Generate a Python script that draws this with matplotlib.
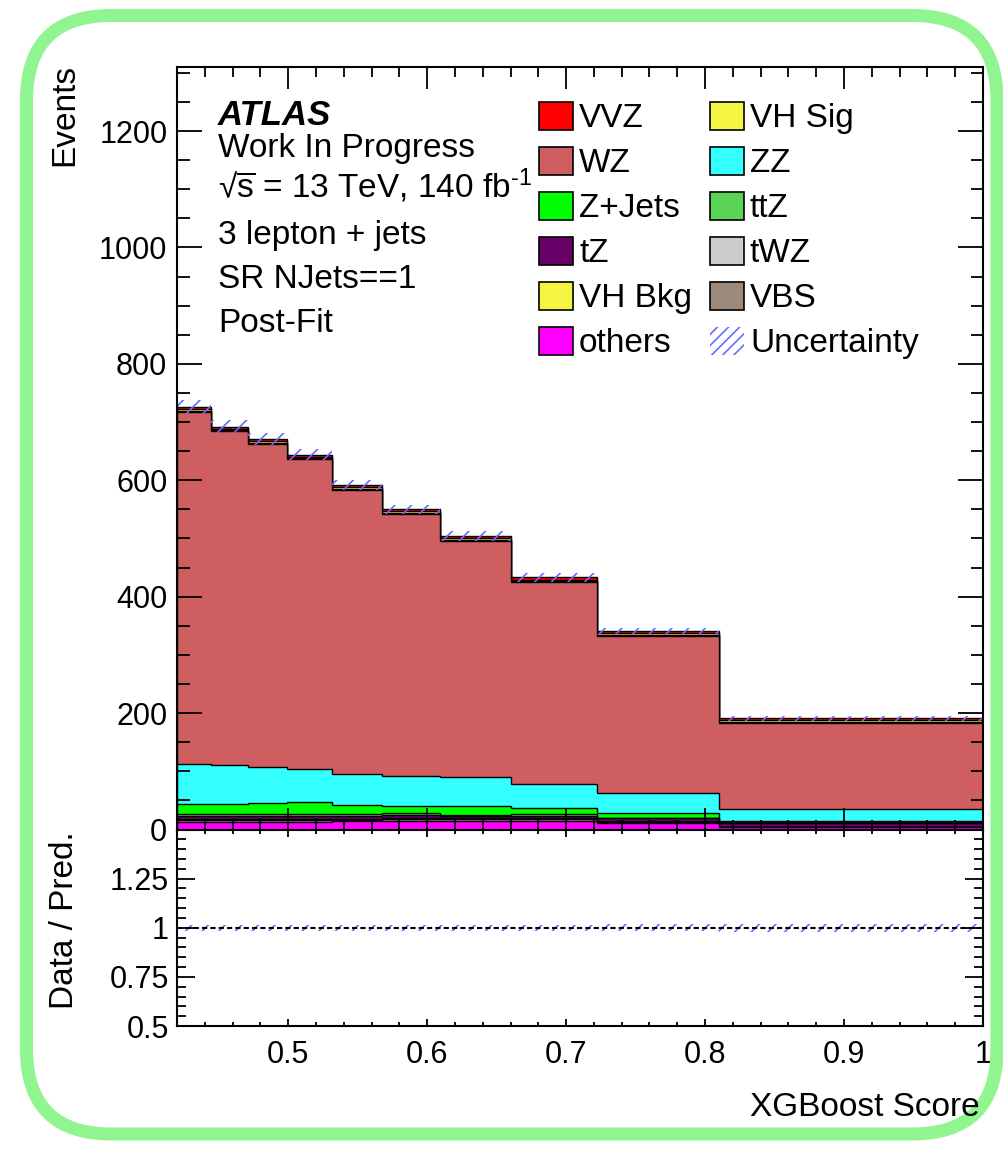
import numpy as np
import matplotlib
matplotlib.use('Agg')
import matplotlib.pyplot as plt
from matplotlib.patches import Patch, FancyBboxPatch
from matplotlib.ticker import MultipleLocator, FixedLocator, FuncFormatter
from matplotlib.transforms import IdentityTransform

plt.rcParams['font.family'] = ['Liberation Sans', 'DejaVu Sans']
plt.rcParams['mathtext.fontset'] = 'custom'
plt.rcParams['mathtext.rm'] = 'Liberation Sans'
plt.rcParams['mathtext.it'] = 'Liberation Sans:italic'
plt.rcParams['hatch.linewidth'] = 1.2

# XGBoost score binning
edges = [0.42, 0.4443, 0.4712, 0.499, 0.5315, 0.5672, 0.609, 0.66, 0.7221, 0.81, 1.0]

# post-fit yields per bin (stack order: bottom -> top)
others = [13, 13, 13, 13, 14, 15, 15, 15, 12, 4]
vbs = [3.5, 3.5, 3.5, 3.5, 3, 3, 2.5, 2.5, 1, 0.5]
twz = [1.5, 1.5, 1.5, 1.5, 1.5, 1.5, 1.5, 1.5, 1, 0.5]
tz = [6, 6, 6, 6, 5.5, 6, 5, 5, 5, 6]
ttz = [2, 2, 2, 2, 2, 2.3, 1, 2, 1.3, 1.5]
zjets = [18, 18, 20, 21.8, 16, 13.2, 16, 10.4, 7.5, 2.1]
zz = [68, 66, 61, 55.7, 54, 50.5, 49, 42.6, 34.2, 21.4]
wz = [606, 574, 556, 532.5, 488, 450.5, 406, 346, 271, 147]
vh_bkg = [1.5, 1.5, 1.5, 1.5, 1.5, 1.5, 1.5, 1.5, 1.5, 1.5]
vh_sig = [3, 3, 3, 3, 3, 3, 3, 3, 3, 3]
vvz = [3.5, 3.5, 3.5, 3.5, 3.5, 3.5, 3.5, 3.5, 3.5, 3.5]

# absolute uncertainty on the total prediction
unc = [12, 11, 10, 10, 9, 8, 8, 7, 6, 4]

layers = [
    ('others', others, '#ff00ff'),
    ('VBS', vbs, '#9c8b7c'),
    ('tWZ', twz, '#cccccc'),
    ('tZ', tz, '#660066'),
    ('ttZ', ttz, '#59d454'),
    ('Z+Jets', zjets, '#00ff00'),
    ('ZZ', zz, '#33ffff'),
    ('WZ', wz, '#cf5e61'),
    ('VH Bkg', vh_bkg, '#f4f442'),
    ('VH Sig', vh_sig, '#f4f442'),
    ('VVZ', vvz, '#ff0000'),
]
colors = {name: c for name, _, c in layers}
hatch_col = '#6b6bff'

W, H = 1004, 1149
fig = plt.figure(figsize=(W / 100, H / 100), dpi=100)


def fx(x):
    return x / W


def fy(y):
    return 1 - y / H


ax_l, ax_r = 177, 983
top_t, top_b, rat_b = 67, 829.5, 1026
ax = fig.add_axes([fx(ax_l), fy(top_b), fx(ax_r - ax_l), (top_b - top_t) / H])
rax = fig.add_axes([fx(ax_l), fy(rat_b), fx(ax_r - ax_l), (rat_b - top_b) / H], sharex=ax)

# stacked histograms, drawn from the full stack downwards
cum = np.cumsum([np.array(v, dtype=float) for _, v, _ in layers], axis=0)
for i in range(len(layers) - 1, -1, -1):
    ax.stairs(cum[i], edges, baseline=0, fill=True, facecolor=layers[i][2],
              edgecolor='black', linewidth=1.0)

total = cum[-1]
unc = np.array(unc, dtype=float)
ax.stairs(total + unc, edges, baseline=total - unc, fill=True, facecolor='none',
          edgecolor=hatch_col, hatch='//', linewidth=0)

# ratio panel
rel = unc / total
rax.stairs(1 + rel, edges, baseline=1 - rel, fill=True, facecolor='none',
           edgecolor=hatch_col, hatch='//', linewidth=0)
rax.axhline(1, color='black', linestyle=(0, (2.5, 1.5)), linewidth=1.5)

ax.set_xlim(0.42, 1.0)
ax.set_ylim(0, 1310)
rax.set_ylim(0.5, 1.5)

for a in (ax, rax):
    a.tick_params(which='both', direction='in', top=True, right=True,
                  labelsize=22, width=1.3)
    for s in a.spines.values():
        s.set_linewidth(1.5)
    a.xaxis.set_major_locator(MultipleLocator(0.1))
    a.xaxis.set_minor_locator(MultipleLocator(0.02))

ax.yaxis.set_major_locator(MultipleLocator(200))
ax.yaxis.set_minor_locator(MultipleLocator(50))
ax.tick_params(axis='y', which='major', length=18, pad=7)
ax.tick_params(axis='y', which='minor', length=9)
ax.tick_params(axis='x', which='major', length=15.5)
ax.tick_params(axis='x', which='minor', length=7)
ax.tick_params(axis='x', labelbottom=False)

rax.yaxis.set_major_locator(FixedLocator([0.5, 0.75, 1.0, 1.25, 1.5]))
rax.yaxis.set_minor_locator(MultipleLocator(0.05))
rax.yaxis.set_major_formatter(FuncFormatter(lambda v, p: '' if v > 1.4 else '%g' % v))
rax.xaxis.set_major_formatter(FuncFormatter(lambda v, p: '%g' % round(v, 2)))
rax.tick_params(axis='y', which='major', length=13, pad=6)
rax.tick_params(axis='y', which='minor', length=6.5)
rax.tick_params(axis='x', which='major', length=5, pad=10)
rax.tick_params(axis='x', which='minor', length=3)

# axis titles
fig.text(fx(65), fy(64), 'Events', rotation=90, ha='center', va='top', fontsize=24)
fig.text(fx(65), fy(920), 'Data / Pred.', rotation=90, ha='center', va='center', fontsize=24)
fig.text(fx(980), fy(1108), 'XGBoost Score', ha='right', va='center', fontsize=24)

# labels
fig.text(fx(218), fy(125), 'ATLAS', fontsize=25, fontweight='bold', style='italic', va='baseline')
info = [
    ('Work In Progress', 157),
    (r'√$\overline{\mathrm{s}}$ = 13 TeV, 140 fb$^{\text{-1}}$', 198),
    ('3 lepton + jets', 244),
    ('SR NJets==1', 288),
    ('Post-Fit', 332),
]
for txt, yb in info:
    fig.text(fx(218), fy(yb), txt, fontsize=24, va='baseline')

# legend
order = ['VVZ', 'WZ', 'Z+Jets', 'tZ', 'VH Bkg', 'others',
         'VH Sig', 'ZZ', 'ttZ', 'tWZ', 'VBS']
handles = [Patch(facecolor=colors[n], edgecolor='black', linewidth=1.2, label=n) for n in order]
handles.append(Patch(facecolor='none', edgecolor=hatch_col, hatch='///', linewidth=0,
                     label='Uncertainty'))
ax.legend(handles=handles, ncol=2, loc='upper left',
          bbox_to_anchor=((539 - ax_l) / (ax_r - ax_l), (top_b - 101.8) / (top_b - top_t)),
          frameon=False, fontsize=24, borderpad=0, borderaxespad=0,
          handlelength=1.02, handleheight=0.93, handletextpad=0.18,
          labelspacing=0.37, columnspacing=0.54)

# rounded frame around the figure
fig.patches.append(FancyBboxPatch((26.5, 15), 970.5, 1118.5,
                                  boxstyle='round,pad=0,rounding_size=85',
                                  transform=IdentityTransform(), fill=False,
                                  edgecolor='#90f590', linewidth=9.4))

fig.savefig('out.png', dpi=100)
